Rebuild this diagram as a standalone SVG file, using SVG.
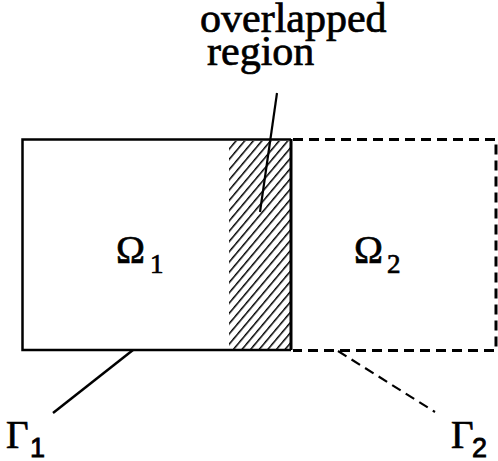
<svg xmlns="http://www.w3.org/2000/svg" width="498" height="461" viewBox="0 0 498 461">
<style>
.serif{font-family:"Liberation Serif","Times New Roman",serif;fill:#000;stroke:#000;stroke-width:0.7}
.sans{font-family:"Liberation Sans",Arial,sans-serif;fill:#000;stroke:#000;stroke-width:0.8}
.solid{fill:none;stroke:#000;stroke-width:2.5}
.dash{fill:none;stroke:#000;stroke-width:3;stroke-dasharray:10 6}
</style>
<defs>
<pattern id="hatch" patternUnits="userSpaceOnUse" width="6.6" height="6.6" patternTransform="rotate(40)">
<line x1="0" y1="-1" x2="0" y2="8" stroke="#000" stroke-width="3"/>
</pattern>
</defs>
<g id="overlap">
<rect x="229" y="141" width="62" height="208" fill="url(#hatch)"/>
<line x1="291" y1="139" x2="291" y2="350" stroke="#000" stroke-width="3"/>
</g>
<g id="omega1">
<polyline class="solid" points="291,139.5 22.5,139.5 22.5,350 291,350"/>
<text class="serif" x="116" y="263" font-size="39" stroke-width="1.2">Ω</text>
<text class="serif" x="150" y="273" font-size="27">1</text>
</g>
<g id="omega2">
<polyline class="dash" points="293,139.5 496,139.5 496,350.5 293,350.5"/>
<text class="serif" x="354" y="263" font-size="39" stroke-width="1.2">Ω</text>
<text class="serif" x="387" y="273" font-size="27">2</text>
</g>
<g id="label-overlap">
<text class="serif" x="200" y="32" font-size="42">overlapped</text>
<text class="serif" x="207" y="65" font-size="42">region</text>
</g>
<g id="gamma1">
<text class="serif" x="6" y="448" font-size="39">Γ</text>
<text class="sans" x="30" y="457" font-size="27">1</text>
</g>
<g id="gamma2">
<text class="serif" x="451" y="448" font-size="39">Γ</text>
<text class="sans" x="472" y="457" font-size="27">2</text>
</g>
<g id="connectors">
<line x1="277" y1="93" x2="260" y2="212" stroke="#000" stroke-width="2.2"/>
<line x1="133" y1="350" x2="53" y2="413" stroke="#000" stroke-width="2.5"/>
<line x1="338" y1="351" x2="435" y2="412" stroke="#000" stroke-width="2.2" stroke-dasharray="10 6"/>
</g>
</svg>
